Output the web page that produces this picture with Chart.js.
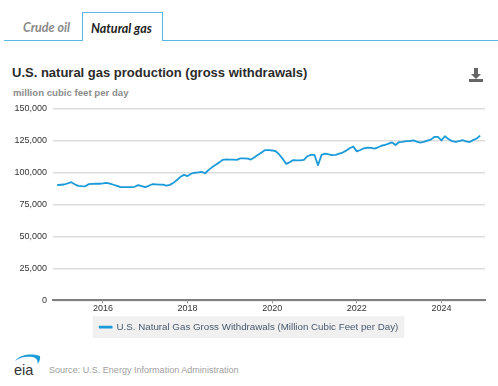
<!DOCTYPE html>
<html><head><meta charset="utf-8">
<script src="https://cdn.jsdelivr.net/npm/chart.js@4"></script>
<style>
html,body{margin:0;padding:0;background:#fff;width:498px;height:386px;overflow:hidden;font-family:"Liberation Sans",Arial,sans-serif}
.abs{position:absolute;white-space:nowrap}
#rule{left:4px;top:39.5px;width:494px;height:1.5px;background:#5db7e4}
#tab{left:81.5px;top:11.5px;width:79px;height:28.5px;border:1.5px solid #5db7e4;border-bottom:none;background:#fff}
.t{font-family:Lato,sans-serif;font-style:italic;font-weight:700;font-size:12.5px}
#t1{left:23px;top:20px;color:#8a8a8a}
#t2{left:91px;top:21px;color:#222}
#title{left:12px;top:65px;font-size:13px;font-weight:700;color:#2b2b2b}
#sub{left:13px;top:87px;font-size:9.65px;font-weight:700;color:#8c8c8c}
#src{left:49px;top:365px;font-size:9.05px;color:#a0a0a0}
#eia{left:14px;top:354px}
#dl{left:468px;top:67px}
canvas{position:absolute;left:0;top:97px}
</style></head><body>
<div class="abs" id="rule"></div><div class="abs" id="tab"></div>
<div class="abs t" id="t1">Crude oil</div><div class="abs t" id="t2">Natural gas</div>
<div class="abs" id="title">U.S. natural gas production (gross withdrawals)</div>
<div class="abs" id="sub">million cubic feet per day</div>
<svg class="abs" id="dl" width="16" height="16" viewBox="0 0 16 16"><path d="M6 1h4v6h3l-5 5-5-5h3z" fill="#666"/><rect x="1" y="12" width="14" height="3" fill="#666"/></svg>
<svg class="abs" id="eia" width="28" height="24" viewBox="0 0 28 24"><path d="M1 7C6 1 15-1 26 2c.5 3-.5 6-2.500 8 .5-4-1-6-5-7C12 2 6 3 1 7z" fill="#1b9cd8"/><text x="0" y="21" font-family="Liberation Sans" font-size="14.500" font-weight="400" fill="#333">eia</text></svg>
<div class="abs" id="src">Source: U.S. Energy Information Administration</div>
<canvas id="c" width="498" height="245"></canvas>
<script>
const seriesName = "U.S. Natural Gas Gross Withdrawals (Million Cubic Feet per Day)";
const firstYear = 2014, firstMonth = 12;
const tickYears = [2016, 2018, 2020, 2022, 2024];
const valueTicks = [0, 25000, 50000, 75000, 100000, 125000, 150000];
const values = [
 90000,
 90300,90500,91300,92300,90700,89400,89200,89100,90800,91000,91100,91100,
 91300,91800,91100,90300,89400,88400,88500,88500,88400,88700,90000,89300,
 88500,89500,90700,90600,90400,90400,89600,90200,91800,94000,96500,98000,
 97100,98900,99700,100000,100400,99300,101900,104100,106000,107800,109800,110100,
 110000,109900,109800,111000,111000,110700,110000,111800,113700,115600,117400,117300,
 117100,116500,114000,110500,106600,108000,109600,109400,109300,109700,112600,113600,
 113600,105500,113600,114600,114000,113400,113600,114700,115500,117000,118800,120200,
 116400,117500,118800,119400,119100,118600,119600,120800,121400,122400,123400,121400,
 123700,123900,124400,124400,125000,124000,123300,123800,124800,125600,127700,127700,
 125000,128200,126000,124400,123800,124500,125200,124200,123700,125200,126500,128700
];
const points = values.map((v,i)=>({x: firstYear + (firstMonth-1+i)/12, y: v}));
const legendBg = {id:'legendBg', beforeDraw(ch){
  const b = ch.legend.legendHitBoxes[0]; if(!b) return;
  const c = ch.ctx; c.save(); c.fillStyle='#f0f0f0';
  c.fillRect(b.left-7, b.top-6, b.width+13, b.height+12); c.restore();
}};
new Chart(document.getElementById('c'),{
  type:'line',
  data:{datasets:[{label:seriesName,data:points,borderColor:'#1b9ad9',backgroundColor:'#1b9ad9',
    borderWidth:1.8,pointRadius:0,tension:0,borderJoinStyle:'round'}]},
  plugins:[legendBg],
  options:{responsive:false,animation:false,
    layout:{padding:{left:13,right:13,top:10,bottom:0}},
    plugins:{title:{display:false},tooltip:{enabled:false},
      legend:{display:true,position:'bottom',
        labels:{boxWidth:12,boxHeight:1,padding:10,color:'#47596d',font:{family:'"Liberation Sans"',size:9.75}}}},
    scales:{
      x:{type:'linear',min:2014.82,max:2025.03,
        afterBuildTicks(s){s.ticks=tickYears.map(v=>({value:v}));},
        afterFit(s){s.height=12;},
        grid:{drawOnChartArea:false,drawTicks:true,tickLength:3,color:'#888',lineWidth:1},
        border:{display:true,color:'#808080',width:2},
        ticks:{autoSkip:false,maxRotation:0,padding:0,color:'#333',font:{family:'"Liberation Sans"',size:9},callback:v=>String(v)}},
      y:{min:0,max:150000,
        afterBuildTicks(s){s.ticks=valueTicks.map(v=>({value:v}));},
        afterFit(s){s.width=40;},
        grid:{color:'#dcdcdc',lineWidth:1.5,drawTicks:false},
        border:{display:false},
        ticks:{padding:6,color:'#333',font:{family:'"Liberation Sans"',size:9},
          callback:v=>v.toLocaleString('en-US')}}
    }}
});
</script>
</body></html>
